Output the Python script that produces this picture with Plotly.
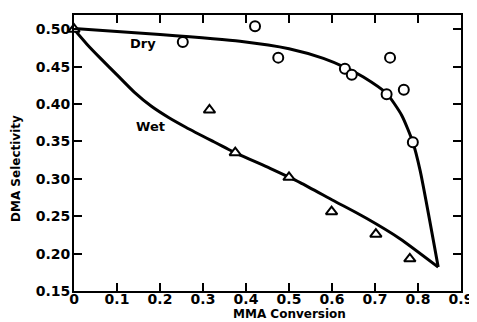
import plotly.graph_objects as go

dry_x = [0.253, 0.421, 0.475, 0.630, 0.646, 0.727, 0.735, 0.767, 0.788]
dry_y = [0.483, 0.504, 0.462, 0.447, 0.439, 0.413, 0.462, 0.419, 0.349]

wet_x = [0.0, 0.315, 0.375, 0.500, 0.599, 0.702, 0.781]
wet_y = [0.500, 0.392, 0.335, 0.302, 0.256, 0.226, 0.193]

# Fitted curves
dry_curve_x = [0.0, 0.2, 0.386, 0.5, 0.58, 0.634, 0.673, 0.727, 0.762, 0.788, 0.805, 0.847]
dry_curve_y = [0.501, 0.493, 0.484, 0.474, 0.461, 0.448, 0.436, 0.414, 0.385, 0.349, 0.311, 0.182]

wet_curve_x = [0.0, 0.03, 0.06, 0.10, 0.14, 0.18, 0.22, 0.26, 0.32, 0.378, 0.456, 0.526,
               0.603, 0.681, 0.758, 0.847]
wet_curve_y = [0.500, 0.480, 0.462, 0.439, 0.416, 0.397, 0.382, 0.369, 0.351, 0.334, 0.314,
               0.295, 0.271, 0.247, 0.220, 0.182]

x_ticks = [0, 0.1, 0.2, 0.3, 0.4, 0.5, 0.6, 0.7, 0.8, 0.9]
x_tick_text = ["0", "0.1", "0.2", "0.3", "0.4", "0.5", "0.6", "0.7", "0.8", "0.9"]
y_ticks = [0.15, 0.20, 0.25, 0.30, 0.35, 0.40, 0.45, 0.50]
y_tick_text = ["0.15", "0.20", "0.25", "0.30", "0.35", "0.40", "0.45", "0.50"]

FONT = "DejaVu Sans"

fig = go.Figure()
fig.add_trace(go.Scatter(x=dry_curve_x, y=dry_curve_y, mode="lines",
                         line=dict(color="black", width=3, shape="spline", smoothing=0.6),
                         showlegend=False, hoverinfo="skip"))
fig.add_trace(go.Scatter(x=wet_curve_x, y=wet_curve_y, mode="lines",
                         line=dict(color="black", width=3, shape="spline", smoothing=0.6),
                         showlegend=False, hoverinfo="skip"))
fig.add_trace(go.Scatter(x=dry_x, y=dry_y, mode="markers",
                         marker=dict(symbol="circle", size=10, color="white",
                                     line=dict(color="black", width=2)),
                         showlegend=False, cliponaxis=False))
fig.add_trace(go.Scatter(x=wet_x, y=wet_y, mode="markers",
                         marker=dict(symbol="triangle-up", size=10, color="white",
                                     line=dict(color="black", width=2)),
                         showlegend=False, cliponaxis=False))

fig.add_annotation(x=0.16, y=0.481, text="Dry", showarrow=False,
                   font=dict(family=FONT, size=13, color="black", weight="bold"))
fig.add_annotation(x=0.177, y=0.370, text="Wet", showarrow=False,
                   font=dict(family=FONT, size=13, color="black", weight="bold"))

fig.add_annotation(xref="paper", yref="paper", x=0.556, y=0, yanchor="middle",
                   yshift=-23, text="MMA Conversion", showarrow=False,
                   font=dict(family=FONT, size=12, color="black", weight="bold"))
fig.add_annotation(xref="paper", yref="paper", x=0, xanchor="center", xshift=-58,
                   y=0.442, textangle=-90,
                   text="DMA Selectivity", showarrow=False,
                   font=dict(family=FONT, size=12, color="black", weight="bold"))

axis_common = dict(showline=True, linecolor="black", linewidth=2, mirror="ticks",
                   ticks="inside", ticklen=8, tickwidth=2, tickcolor="black",
                   showgrid=False, zeroline=False, automargin=False,
                   tickfont=dict(family=FONT, size=14, color="black", weight="bold"))

fig.update_xaxes(range=[0, 0.9], tickvals=x_ticks, ticktext=x_tick_text,
                 ticklabelstandoff=-6, **axis_common)
fig.update_yaxes(range=[0.15, 0.519], tickvals=y_ticks, ticktext=y_tick_text,
                 ticklabelstandoff=-1, **axis_common)

# The page body has an 8px default margin, so the figure is sized to fit the window.
fig.update_layout(width=469, height=314, margin=dict(l=66, r=16, t=7, b=31),
                  plot_bgcolor="white", paper_bgcolor="white")

fig.write_html("out.html")
